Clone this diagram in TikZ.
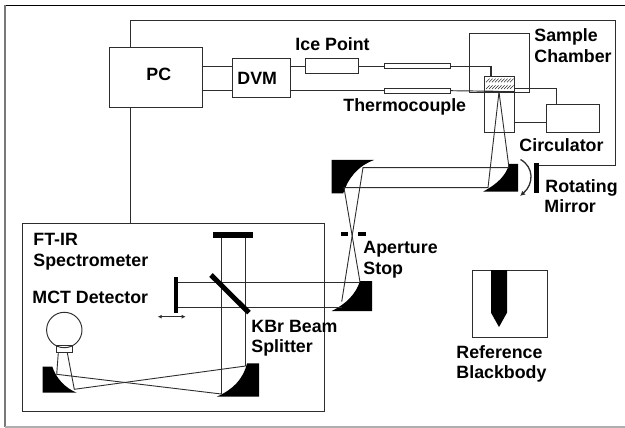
\documentclass[tikz,border=0pt]{standalone}
\usepackage{fontspec}
\setmainfont{Liberation Sans}
\usetikzlibrary{arrows.meta}
\definecolor{wire}{RGB}{45,45,45}
\definecolor{edge}{RGB}{120,120,120}
\tikzset{
  box/.style={draw=wire, inner sep=0pt, outer sep=0pt},
  bar/.style={fill=black, inner sep=0pt, outer sep=0pt},
  lbl/.style={anchor=base west, inner sep=0pt, font=\fontsize{17.8}{20}\selectfont\bfseries},
  ray/.style={draw=wire, line width=0.9pt}
}
\begin{document}
\begin{tikzpicture}[x=1pt, y=-1pt, line width=0.95pt, wire]
\useasboundingbox (0,0) rectangle (625,428);

% page edge
\draw[black] (625,5) -- (5,5);
\draw[edge, line width=1.8pt] (5,5) -- (5,427);
\draw[edge!60, line width=1.2pt] (5,427) -- (625,427);

\node(pc)[box, minimum width=93pt, minimum height=60pt] at (156,77.3){};
\node(dvm)[box, minimum width=58.4pt, minimum height=38.6pt] at (261.5,78){};
\node(ice)[box, minimum width=52.3pt, minimum height=15.3pt] at (332,66.3){};
\node(tube1)[box, minimum width=66.4pt, minimum height=4.7pt] at (417.5,66.3){};
\node(tube2)[box, minimum width=66.4pt, minimum height=4.7pt] at (417.5,90.7){};
\node(chamber)[box, minimum width=60pt, minimum height=59.4pt] at (499.3,63){};
\node(holder)[box, minimum width=30pt, minimum height=41.4pt] at (499.7,112){};
\node(sample)[box, fill=white, minimum width=30pt, minimum height=14.6pt] at (499.7,84){};
\node(circ)[box, minimum width=52.6pt, minimum height=28pt] at (573,118.7){};
\node(ftir)[box, minimum width=301.3pt, minimum height=187.7pt] at (173.4,317.2){};
\node(ref)[box, minimum width=74.7pt, minimum height=67pt] at (509.7,303.5){};

% sample hatching
\foreach \x in {486,489,...,510}{
  \draw[line width=0.6pt] (\x,82.3) -- +(3.6,-3.6);
  \draw[line width=0.6pt] (\x,89) -- +(3.6,-3.6);
}

% wires
\coordinate (ftop) at (130,20.3);
\coordinate (fcorner) at (615,165);
\coordinate (sa) at (491,76.7);
\coordinate (sb) at (499,91.3);
\coordinate (cw) at (556.7,88);

\node(rotbar)[bar, minimum width=5pt, minimum height=30.3pt] at (536.5,177.8){};

\draw (pc.east |- tube1) -- (dvm.west |- tube1);
\draw (pc.east |- tube2) -- (dvm.west |- tube2);
\draw (dvm.east |- ice) -- (ice.west);
\draw (ice.east) -- (tube1.west);
\draw (dvm.east |- tube2) -- (tube2.west);
\draw[line width=1.3pt] (tube1.east) -| (sa);
\draw (tube2.east) -- (sb);
\draw (sample.east |- cw) -- (cw) -- (circ.north -| cw);
\draw (holder.east |- 0,122) -- (circ.west |- 0,122);
\draw (pc.north -| ftop) -- (ftop) -- (ftop -| fcorner) -- (fcorner) -- (rotbar.east |- fcorner);
\draw (pc.south -| ftop) -- (ftir.north -| ftop);

% rotating arrow
\draw[line width=1.3pt, -{Latex[length=5pt,width=5pt]}] (520.5,159.5) .. controls (534,167) and (534,184) .. (520,196);

% parabolic mirrors
\fill[black] (518,164) -- (518,191.7) -- (483,191.7) .. controls (497,184) and (506,176) .. (509,164) -- cycle;
\fill[black] (331.7,160) -- (374,160) .. controls (358,166) and (348,178) .. (343.3,193.3) -- (331.7,193.3) -- cycle;
\fill[black] (372,281) -- (372,311) -- (331.7,311) .. controls (346,304) and (356,294) .. (360,281) -- cycle;
\fill[black] (259,363.3) -- (259,396.7) -- (216.7,396.7) .. controls (232,390) and (243,380) .. (247,363.3) -- cycle;
\fill[black] (42.7,366.7) -- (52.3,366.7) .. controls (56,378) and (65,388) .. (76.7,392.7) -- (42.7,392.7) -- cycle;

% upper beam
\draw[ray] (499,92) -- (509,167.7) -- (363,167.7) -- (341.7,301.7);
\draw[ray] (499,92) -- (488,187.7) -- (344,187.7) -- (360,282);

% aperture
\node(stopa)[bar, minimum width=7pt, minimum height=3.7pt] at (344.5,233.8){};
\node(stopb)[bar, minimum width=8pt, minimum height=3.7pt] at (362,233.8){};

% interferometer
\node(movbar)[bar, minimum width=4.6pt, minimum height=36pt] at (176,294.7){};
\node(fixbar)[bar, minimum width=40.6pt, minimum height=6pt] at (233,235.3){};
\coordinate (fa) at (360,282);
\coordinate (fb) at (341.7,307.7);
\draw[ray] (fa) -- (movbar.east |- fa);
\draw[ray] (fb) -- (movbar.east |- fb);
\draw[ray] (fixbar.south -| 221.3,0) -- (221.3,394);
\draw[ray] (fixbar.south -| 245.7,0) -- (245.7,366);
\draw[black, line width=5pt] (211,275) -- (249,312.7);
\draw[{Latex[length=4pt,width=4pt]}-{Latex[length=4pt,width=4pt]}] (157.7,316.7) -- (185.7,316.7);

% detector
\node(det)[box, circle, minimum size=35.4pt] at (64.3,330){};
\node(detbase)[box, minimum width=16pt, minimum height=6.7pt] at (64.7,349.3){};
\draw[ray] (245.7,366) -- (74.3,389.3) -- (67.3,352.7);
\draw[ray] (221.3,394) -- (56.7,374.3) -- (58.3,352.7);

% blackbody
\fill[black] (491,270) -- (507,270) -- (507,312.7) -- (499,327) -- (491,312.7) -- cycle;

% labels
\begin{scope}[black]
\node(tpc)[lbl] at (146,81){PC};
\node(tdvm)[lbl] at (237,84.5){DVM};
\node(tice)[lbl] at (295,51){Ice Point};
\node(tthermo)[lbl] at (343,112){Thermocouple};
\node(tsample)[lbl] at (534,41.7){Sample};
\node(tchamber)[lbl] at (534,63){Chamber};
\node(tcirc)[lbl] at (519,151.7){Circulator};
\node(trot)[lbl] at (545,193){Rotating};
\node(tmir)[lbl] at (544,212.7){Mirror};
\node(tap)[lbl] at (363,253){Aperture};
\node(tstop)[lbl] at (363,274){Stop};
\node(tft)[lbl] at (33,245){FT-IR};
\node(tspec)[lbl] at (33,266.7){Spectrometer};
\node(tmct)[lbl] at (32,303){MCT Detector};
\node(tkbr)[lbl] at (251,332){KBr Beam};
\node(tsplit)[lbl] at (251,352.7){Splitter};
\node(tref)[lbl] at (456,358){Reference};
\node(tblack)[lbl] at (456,378){Blackbody};
\end{scope}
\end{tikzpicture}
\end{document}
